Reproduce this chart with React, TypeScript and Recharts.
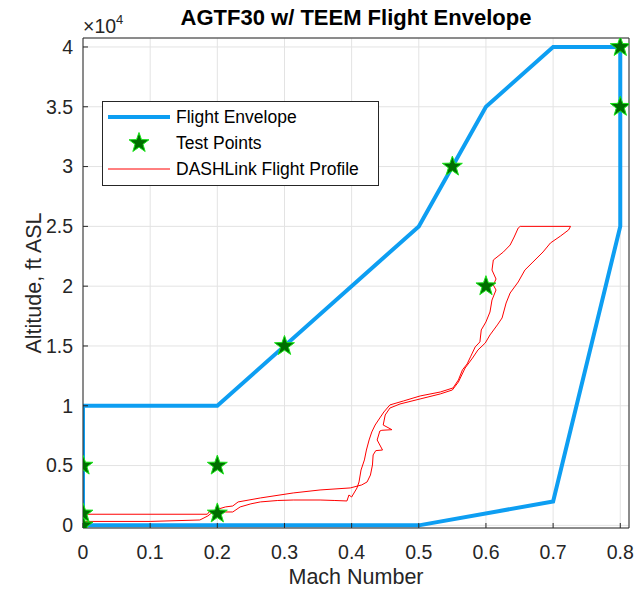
import React from 'react';
import { ComposedChart, Line, Scatter, XAxis, YAxis, CartesianGrid } from 'recharts';

// axis ticks
const MACH_TICKS = [0, 0.1, 0.2, 0.3, 0.4, 0.5, 0.6, 0.7, 0.8];
const ALT_TICKS = [0, 5000, 10000, 15000, 20000, 25000, 30000, 35000, 40000];

// flight envelope boundary (closed loop)
const ENV_MACH = [0, 0, 0.2, 0.5, 0.6, 0.7, 0.8, 0.8, 0.7, 0.5, 0];
const ENV_ALT = [0, 10000, 10000, 25000, 35000, 40000, 40000, 25000, 2000, 0, 0];

// test points
const TP_MACH = [0, 0, 0, 0.2, 0.2, 0.3, 0.55, 0.6, 0.8, 0.8];
const TP_ALT = [0, 1000, 5000, 1000, 5000, 15000, 30000, 20000, 35000, 40000];

// DASHLink recorded flight (climb out and return)
const PROF_MACH = [
  0, 0.185, 0.189, 0.197, 0.207, 0.223, 0.234, 0.25, 0.264, 0.29, 0.313, 0.353, 0.375, 0.393,
  0.396, 0.4, 0.408, 0.411, 0.414, 0.419, 0.422, 0.426, 0.43, 0.435, 0.442, 0.448, 0.457, 0.477,
  0.502, 0.532, 0.551, 0.559, 0.565, 0.572, 0.577, 0.584, 0.591, 0.593, 0.6, 0.606, 0.609, 0.615,
  0.611, 0.615, 0.609, 0.611, 0.618, 0.626, 0.636, 0.642, 0.648, 0.651, 0.726, 0.723, 0.711,
  0.696, 0.685, 0.67, 0.658, 0.648, 0.636, 0.63, 0.624, 0.617, 0.606, 0.599, 0.588, 0.58, 0.569,
  0.559, 0.55, 0.532, 0.502, 0.472, 0.457, 0.45, 0.447, 0.46, 0.445, 0.442, 0.438, 0.446, 0.436,
  0.432, 0.431, 0.428, 0.423, 0.415, 0.398, 0.353, 0.313, 0.264, 0.231, 0.223, 0.212, 0.197,
  0.186, 0.174, 0.1, 0,
];
const PROF_ALT = [
  930, 930, 1200, 950, 1120, 1120, 1540, 1800, 1960, 2080, 2120, 2120, 2080, 2040,
  2540, 2370, 3130, 3630, 4630, 5470, 6300, 7140, 7810, 8390, 8980, 9480, 10070, 10400,
  10820, 11150, 11490, 12160, 13000, 13500, 14090, 14920, 15340, 16340, 17010, 17840, 18840, 19680,
  20100, 20600, 21350, 22190, 22500, 22860, 23440, 24110, 24860, 25000, 25000, 24700, 24190,
  23610, 22860, 22020, 21350, 20350, 19430, 18590, 17340, 16760, 15920, 15250, 14660, 13990, 13160,
  11990, 11320, 10990, 10570, 10150, 9810, 9230, 8390, 8000, 7950, 7890, 7140, 6300, 6250,
  5890, 5050, 4210, 3630, 3380, 3130, 2960, 2710, 2290, 1960, 1620, 1540, 1290,
  790, 450, 330, 330,
];

const toRows = (ms: number[], alts: number[]) => ms.map((m, i) => ({ m, alt: alts[i] }));
const envelope = toRows(ENV_MACH, ENV_ALT);
const testPoints = toRows(TP_MACH, TP_ALT);
const profile = toRows(PROF_MACH, PROF_ALT);

const BLUE = '#0d9ef2';
const FONT = '"Liberation Sans", Arial, sans-serif';
const INK = '#262626';

const starPath = (cx: number, cy: number, r: number) => {
  const pts: string[] = [];
  for (let i = 0; i < 10; i++) {
    const rad = i % 2 === 0 ? r : r * 0.4;
    const a = -Math.PI / 2 + (i * Math.PI) / 5;
    pts.push(`${cx + rad * Math.cos(a)},${cy + rad * Math.sin(a)}`);
  }
  return pts.join(' ');
};

const Star = (props: any) => {
  const { cx, cy } = props;
  if (cx == null || cy == null) return null;
  return <polygon points={starPath(cx, cy, 10.5)} fill="#006e00" stroke="#19e619" strokeWidth={1} />;
};

const tickStyle = { fontSize: 19.5, fill: INK, fontFamily: FONT };

export default function App() {
  return (
    <div style={{ position: 'absolute', left: 0, top: 0, width: 640, height: 590, background: '#fff' }}>
      <ComposedChart width={640} height={590} margin={{ top: 37, right: 10, bottom: 0, left: 0 }}>
        <CartesianGrid stroke="#e3e3e3" strokeWidth={1} />
        <XAxis
          dataKey="m"
          type="number"
          domain={[0, 0.813]}
          ticks={MACH_TICKS}
          allowDataOverflow
          height={62}
          tickSize={-5}
          tickMargin={22}
          tick={tickStyle}
          tickFormatter={(v: number) => `${v}`}
          axisLine={{ stroke: INK }}
          tickLine={{ stroke: INK }}
        />
        <XAxis
          xAxisId="top"
          orientation="top"
          dataKey="m"
          type="number"
          domain={[0, 0.813]}
          ticks={MACH_TICKS}
          allowDataOverflow
          height={1}
          tickSize={-5}
          tick={false}
          axisLine={{ stroke: INK }}
          tickLine={{ stroke: INK }}
        />
        <YAxis
          dataKey="alt"
          type="number"
          domain={[-220, 40750]}
          ticks={ALT_TICKS}
          allowDataOverflow
          width={83}
          tickSize={-5}
          tickMargin={15}
          tick={tickStyle}
          tickFormatter={(v: number) => `${v / 10000}`}
          axisLine={{ stroke: INK }}
          tickLine={{ stroke: INK }}
        />
        <YAxis
          yAxisId="right"
          orientation="right"
          dataKey="alt"
          type="number"
          domain={[-220, 40750]}
          ticks={ALT_TICKS}
          allowDataOverflow
          width={1}
          tickSize={-5}
          tick={false}
          axisLine={{ stroke: INK }}
          tickLine={{ stroke: INK }}
        />
        <Line
          data={envelope}
          dataKey="alt"
          stroke={BLUE}
          strokeWidth={4}
          dot={false}
          activeDot={false}
          isAnimationActive={false}
        />
        <Line
          data={profile}
          dataKey="alt"
          stroke="#ff0000"
          strokeWidth={1}
          dot={false}
          activeDot={false}
          isAnimationActive={false}
        />
        <Scatter data={testPoints} dataKey="alt" shape={Star} isAnimationActive={false} />
      </ComposedChart>

      <svg
        width={640}
        height={590}
        style={{ position: 'absolute', left: 0, top: 0, pointerEvents: 'none' }}
        fontFamily={FONT}
      >
        <text x={356} y={25} textAnchor="middle" fontSize={22} fontWeight="bold" fill="#000">
          AGTF30 w/ TEEM Flight Envelope
        </text>
        <text x={83} y={33} fontSize={19.5} fill={INK}>
          ×10<tspan fontSize={13} dy={-9}>4</tspan>
        </text>
        <text x={356} y={584} textAnchor="middle" fontSize={21.5} fill={INK}>
          Mach Number
        </text>
        <text
          x={0}
          y={0}
          transform="translate(41,283) rotate(-90)"
          textAnchor="middle"
          fontSize={21.5}
          fill={INK}
        >
          Altitude, ft ASL
        </text>

        {/* legend */}
        <rect x={102.5} y={101.5} width={276} height={84} fill="#fff" stroke={INK} strokeWidth={1} />
        <line x1={108} x2={170} y1={117} y2={117} stroke={BLUE} strokeWidth={4} />
        <text x={176} y={117} dominantBaseline="central" fontSize={17.5} fill="#000">
          Flight Envelope
        </text>
        <polygon points={starPath(139, 143, 10.5)} fill="#006e00" stroke="#19e619" strokeWidth={1} />
        <text x={176} y={143} dominantBaseline="central" fontSize={17.5} fill="#000">
          Test Points
        </text>
        <line x1={108} x2={170} y1={169} y2={169} stroke="#ff0000" strokeWidth={1} />
        <text x={176} y={169} dominantBaseline="central" fontSize={17.5} fill="#000">
          DASHLink Flight Profile
        </text>
      </svg>
    </div>
  );
}
